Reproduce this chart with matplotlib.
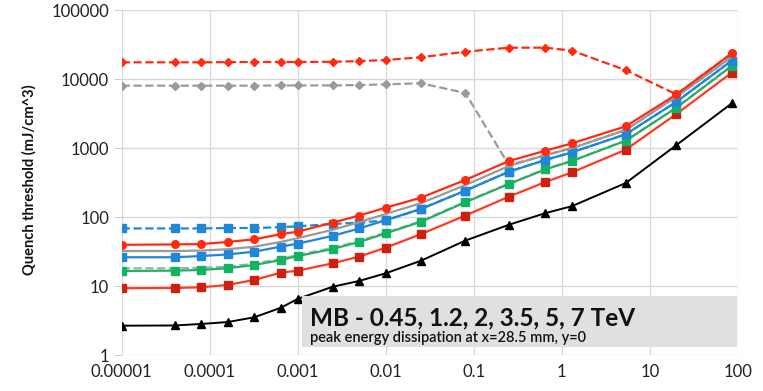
import matplotlib
matplotlib.use("Agg")
import matplotlib.pyplot as plt
from matplotlib.patches import Rectangle
from matplotlib.ticker import FixedLocator, FixedFormatter, NullLocator

plt.rcParams['font.family'] = ['Lato', 'DejaVu Sans']

# ---- data ----
x = [1e-5, 4e-5, 8e-5, 1.6e-4, 3.2e-4, 6.4e-4, 1e-3, 2.5e-3, 5e-3, 1e-2,
     2.5e-2, 0.08, 0.25, 0.65, 1.3, 5.3, 20, 85]

red_dash = [17500, 17500, 17500, 17600, 17700, 17700, 17700, 17800, 18200, 18900,
            20700, 24900, 28500, 28500, 25800, 13500, 6000, 23600]
gray_dash = [8040, 8040, 8040, 8040, 8040, 8100, 8100, 8100, 8200, 8410,
             8700, 6300, 570, 795, 1000, 1840, 5560, 21000]
red_circ = [40, 40.5, 41, 44, 48, 57, 62, 84, 106, 138,
            192, 347, 653, 920, 1175, 2070, 6000, 23500]
gray_solid = [32.5, 32.5, 33, 34.5, 37.5, 44, 50, 66, 85, 112,
              160, 293, 552, 795, 1000, 1840, 5560, 21000]
blue_dash = [69, 69, 69, 70, 70, 72, 74, 80, 84, 90,
             132, 243, 457, 676, 871, 1590, 4700, 18500]
blue_sq = [26.4, 26.4, 27.5, 29, 31.8, 37.6, 41.5, 54, 69, 91,
           132, 243, 457, 676, 871, 1590, 4700, 18500]
green_dash = [18.3, 18.3, 18.6, 19.3, 21.3, 25, 28.5, 36, 45.5, 60,
              88, 168, 308, 500, 660, 1290, 3900, 15700]
green_sq = [16.7, 16.9, 17.3, 18.3, 20.4, 24, 27.5, 34.8, 44, 58.6,
            86, 165, 303, 494, 653, 1280, 3850, 15500]
red_sq = [9.4, 9.5, 9.7, 10.5, 12.4, 15.8, 16.9, 21.6, 27, 36.4,
          57, 106, 199, 324, 447, 950, 3125, 12400]
black_tri = [2.7, 2.72, 2.86, 3.05, 3.57, 4.9, 6.6, 9.9, 12, 15.5,
             23.5, 46, 78, 115, 145, 313, 1110, 4460]

xticks = [1e-5, 1e-4, 1e-3, 1e-2, 1e-1, 1, 10, 100]
xtick_labels = ['0.00001', '0.0001', '0.001', '0.01', '0.1', '1', '10', '100']
yticks = [1, 10, 100, 1000, 10000, 100000]
ytick_labels = ['1', '10', '100', '1000', '10000', '100000']
ylabel = 'Quench threshold (mJ/cm^3)'
title = 'MB - 0.45, 1.2, 2, 3.5, 5, 7 TeV'
subtitle = 'peak energy dissipation at x=28.5 mm, y=0'

# ---- figure ----
fig = plt.figure(figsize=(7.63, 3.91), dpi=100)
ax = fig.add_axes([0.1595, 0.0908, 0.8077, 0.8836])
ax.set_xscale('log')
ax.set_yscale('log')
ax.set_xlim(1e-5, 100)
ax.set_ylim(1, 100000)

ax.plot(x, red_dash, ls='--', color='#ff2a10', lw=1.6, marker='D', ms=4, zorder=3)
ax.plot(x, gray_dash, ls='--', color='#9a9a9a', lw=1.6, marker='D', ms=4, zorder=3)
ax.plot(x, blue_dash, ls='--', color='#1f86d8', lw=1.6, marker='s', ms=6, zorder=3)
ax.plot(x, green_dash, ls='--', color='#86bf9c', lw=1.6, zorder=3)
ax.plot(x, red_sq, ls='-', color='#ff3a22', lw=1.6, marker='s', ms=6,
        mfc='#cc2010', mec='#cc2010', zorder=4)
ax.plot(x, green_sq, ls='-', color='#33a86a', lw=1.6, marker='s', ms=6,
        mfc='#12b463', mec='#12b463', zorder=4)
ax.plot(x, blue_sq, ls='-', color='#1f86d8', lw=1.6, marker='s', ms=6, zorder=4)
ax.plot(x, gray_solid, ls='-', color='#9a9a9a', lw=1.6, zorder=4)
ax.plot(x, red_circ, ls='-', color='#ff2a10', lw=1.6, marker='o', ms=5.5, zorder=4)
ax.plot(x, black_tri, ls='-', color='black', lw=1.4, marker='^', ms=5.5, zorder=5)

ax.xaxis.set_major_locator(FixedLocator(xticks))
ax.xaxis.set_major_formatter(FixedFormatter(xtick_labels))
ax.xaxis.set_minor_locator(NullLocator())
ax.yaxis.set_major_locator(FixedLocator(yticks))
ax.yaxis.set_major_formatter(FixedFormatter(ytick_labels))
ax.yaxis.set_minor_locator(NullLocator())

ax.grid(True, which='major', color='#d9d9d9', lw=1.0, zorder=0)
ax.set_axisbelow(True)
for s in ax.spines.values():
    s.set_visible(False)
ax.tick_params(axis='y', length=6, color='#d0d0d0', labelsize=12, labelcolor='#222222', pad=3)
ax.tick_params(axis='x', length=0, labelsize=12, labelcolor='#222222', pad=6)

fig.text(0.039, 0.54, ylabel, rotation=90, ha='center', va='center',
         fontsize=10.5, fontweight='bold', color='#111111')

ax.add_patch(Rectangle((0.2926, 0.0246), 0.7054, 0.1476, transform=ax.transAxes,
                       facecolor='#e0e0e0', edgecolor='none', zorder=6))
fig.text(310 / 763, 1 - 325 / 391, title, ha='left', va='baseline',
         fontsize=17.5, fontweight='bold', color='#111111', zorder=7)
fig.text(310 / 763, 1 - 342 / 391, subtitle, ha='left', va='baseline',
         fontsize=10.5, fontweight='semibold', color='#111111', zorder=7)

fig.savefig('out.png', dpi=100)
